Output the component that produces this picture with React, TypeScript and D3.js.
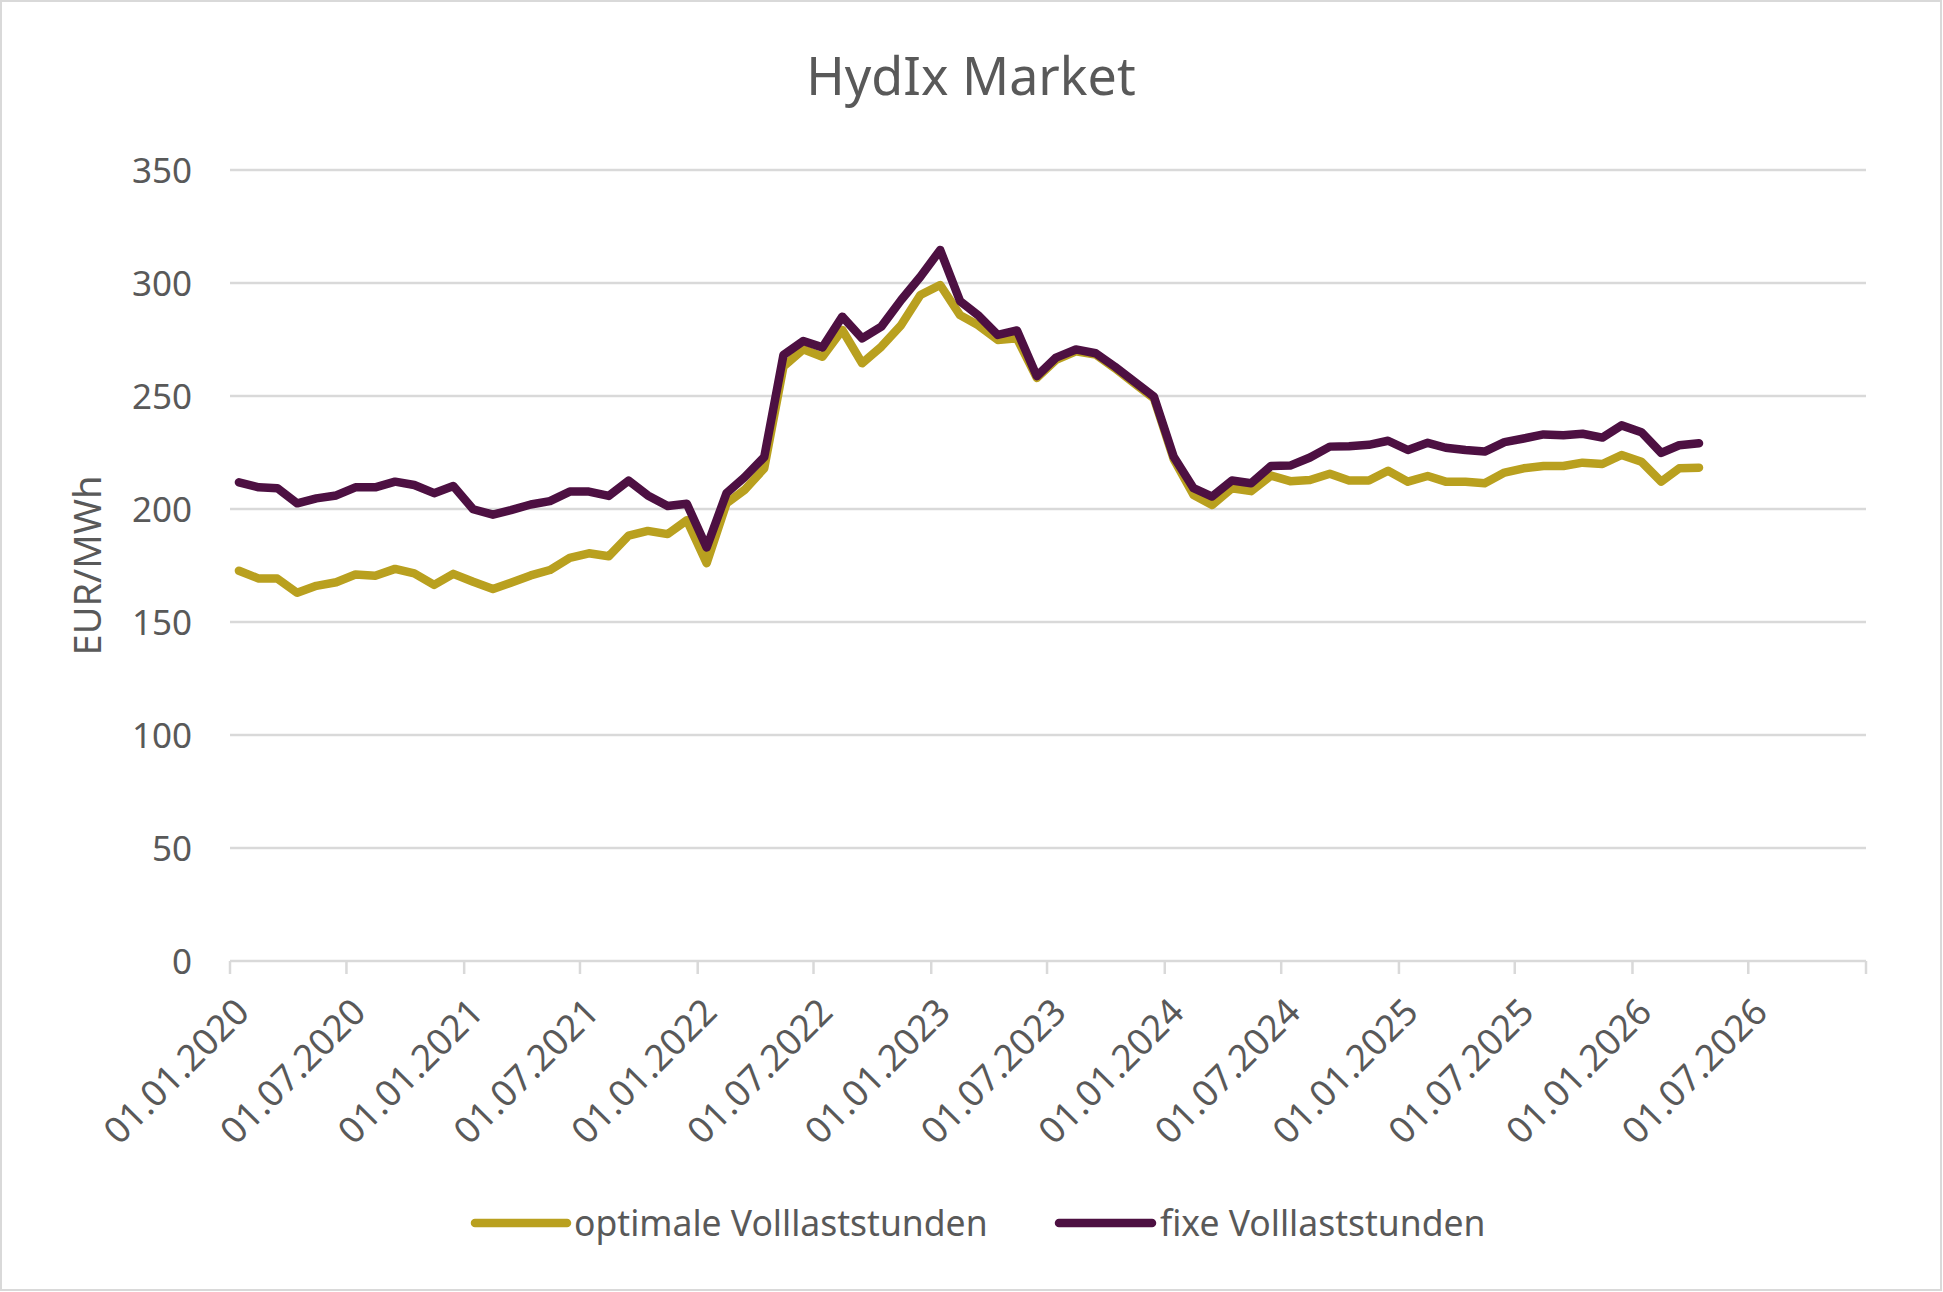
import React from "react";
import * as d3 from "d3";

// chart values
const chartTitle = "HydIx Market";
const yAxisTitle = "EUR/MWh";
const seriesNames = ["optimale Volllaststunden", "fixe Volllaststunden"];
const seriesColors = ["#B9A01F", "#4D1042"];

const firstMonth = new Date(2020, 0, 1);
const lastMonth = new Date(2026, 3, 1);

const optimale = [
  172.7, 169.2, 169.2, 162.9, 166.0, 167.6, 171.0, 170.5, 173.5, 171.5, 166.4, 171.3,
  167.8, 164.6, 167.4, 170.6, 173.0, 178.4, 180.4, 179.1, 188.2, 190.3, 188.9, 195.0,
  176.0, 202.5, 208.4, 218.0, 263.0, 270.7, 267.4, 279.2, 264.5, 271.8, 281.4, 294.7,
  299.1, 285.8, 281.4, 274.8, 275.5, 258.0, 266.0, 269.8, 268.3, 262.3, 255.5, 249.0,
  222.0, 206.2, 201.8, 209.2, 207.9, 214.8, 212.3, 212.8, 215.6, 212.6, 212.6, 216.9,
  212.1, 214.6, 212.1, 212.1, 211.4, 216.1, 218.0, 219.0, 219.0, 220.5, 219.9, 223.9,
  220.9, 212.1, 218.0, 218.3,
];

const fixe = [
  211.8, 209.6, 209.2, 202.5, 204.7, 206.0, 209.6, 209.6, 212.1, 210.6, 207.0, 210.2,
  199.9, 197.5, 199.5, 202.0, 203.5, 207.7, 207.7, 205.8, 212.6, 206.0, 201.3, 202.3,
  183.0, 207.0, 214.0, 223.0, 268.1, 274.3, 271.5, 285.1, 275.5, 280.7, 292.5, 302.8,
  314.6, 292.0, 285.8, 277.0, 279.0, 258.8, 267.0, 270.6, 268.9, 263.0, 256.3, 249.7,
  223.1, 209.2, 205.5, 212.6, 211.4, 219.0, 219.2, 222.8, 227.6, 227.8, 228.4, 230.2,
  226.1, 229.3, 227.1, 226.1, 225.4, 229.6, 231.2, 233.0, 232.6, 233.3, 231.6, 237.0,
  234.0, 224.8, 228.2, 229.1,
];

const yTicks = [0, 50, 100, 150, 200, 250, 300, 350];
const xStart = new Date(2020, 0, 1);
const xEnd = new Date(2027, 0, 1);

const W = 1943;
const H = 1292;
const FONT = "'Noto Sans', sans-serif";
const TEXT = "#595959";
const GRID = "#D9D9D9";

export default function App() {
  const x = d3.scaleTime().domain([xStart, xEnd]).range([230, 1866]);
  const y = d3.scaleLinear().domain([0, 350]).range([961, 170]);

  const months = d3.timeMonth.range(firstMonth, d3.timeMonth.offset(lastMonth, 1));
  const pointDates = months.map((m) => d3.timeDay.offset(m, 14));

  const xTicks = d3.timeMonth.every(6)!.range(xStart, d3.timeDay.offset(xEnd, 1));
  const fmt = d3.timeFormat("%d.%m.%Y");

  const line = d3
    .line<number>()
    .x((_, i) => x(pointDates[i]))
    .y((v) => y(v));

  const series = [optimale, fixe];

  return (
    <>
      <style>{`body{margin:0}`}</style>
      <svg width={W} height={H} style={{ display: "block", background: "#fff" }} fontFamily={FONT}>
        <rect x={1} y={1} width={W - 3} height={H - 3} fill="#fff" stroke={GRID} strokeWidth={2} />

        <text x={971} y={77} textAnchor="middle" dy="0.35em" fontSize={52} fill={TEXT}>
          {chartTitle}
        </text>

        {yTicks.map((t) => (
          <g key={t}>
            {t > 0 && (
              <line x1={230} x2={1866} y1={y(t)} y2={y(t)} stroke={GRID} strokeWidth={2.5} />
            )}
            <text x={192} y={y(t)} dy="0.36em" textAnchor="end" fontSize={35} fill={TEXT}>
              {t}
            </text>
          </g>
        ))}

        <line x1={230} x2={1866} y1={y(0)} y2={y(0)} stroke={GRID} strokeWidth={2.5} />
        {xTicks.map((d, i) => (
          <g key={i}>
            <line x1={x(d)} x2={x(d)} y1={y(0)} y2={y(0) + 13} stroke={GRID} strokeWidth={2.5} />
            {i < xTicks.length - 1 && (
              <text
                transform={`translate(${x(d) + 12},${1005}) rotate(-45)`}
                textAnchor="end"
                dy="0.36em"
                fontSize={36.5}
                fill={TEXT}
              >
                {fmt(d)}
              </text>
            )}
          </g>
        ))}

        <text
          transform={`translate(87,${(y(0) + y(350)) / 2}) rotate(-90)`}
          textAnchor="middle"
          dy="0.36em"
          fontSize={38}
          fill={TEXT}
        >
          {yAxisTitle}
        </text>

        {series.map((s, i) => (
          <path
            key={i}
            d={line(s) ?? ""}
            fill="none"
            stroke={seriesColors[i]}
            strokeWidth={8.5}
            strokeLinejoin="round"
            strokeLinecap="round"
          />
        ))}

        {/* legend */}
        {[
          { x0: 475, x1: 567, tx: 574 },
          { x0: 1059, x1: 1152, tx: 1160 },
        ].map((l, i) => (
          <g key={i}>
            <line x1={l.x0} x2={l.x1} y1={1223} y2={1223} stroke={seriesColors[i]} strokeWidth={8.5} strokeLinecap="round" />
            <text x={l.tx} y={1223} dy="0.36em" fontSize={35.5} fill={TEXT}>
              {seriesNames[i]}
            </text>
          </g>
        ))}
      </svg>
    </>
  );
}
